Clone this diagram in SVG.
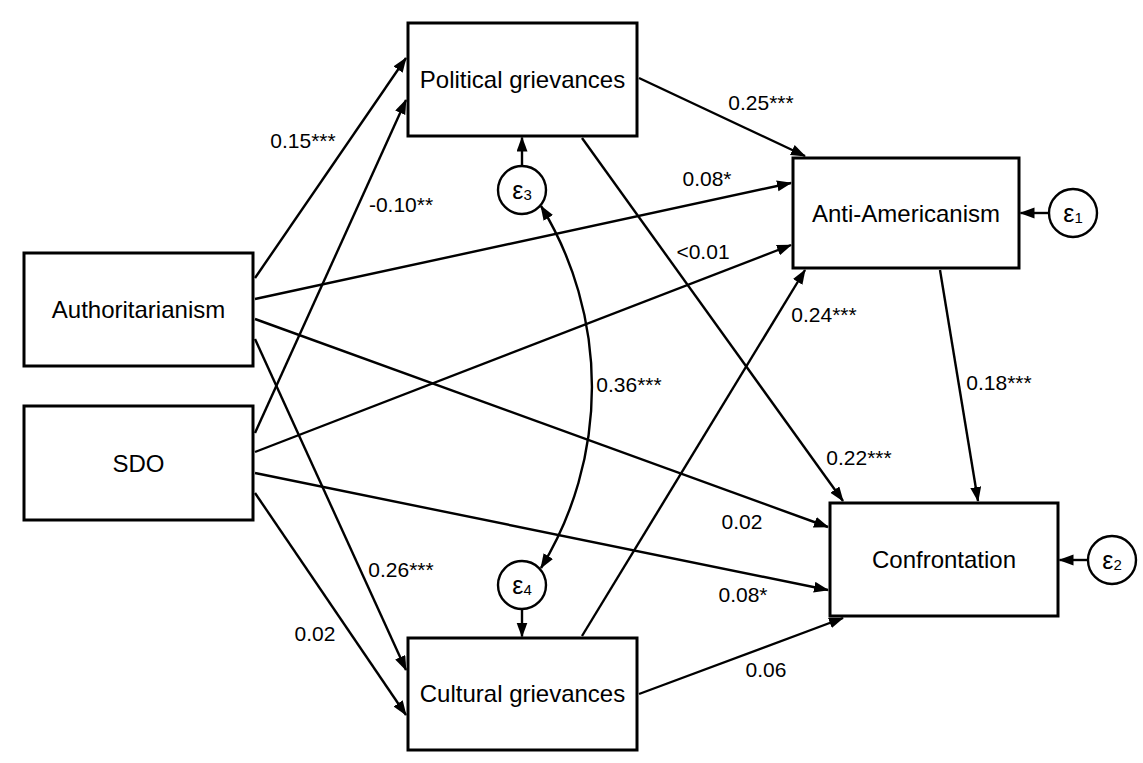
<svg xmlns="http://www.w3.org/2000/svg" width="1143" height="763" viewBox="0 0 1143 763">
<style>
.box{fill:#fff;stroke:#000;stroke-width:3}
.err{fill:#fff;stroke:#000;stroke-width:2.4}
.lbl{font-family:"Liberation Sans",Arial,sans-serif;font-size:24px;fill:#000;text-anchor:middle}
.coef{font-family:"Liberation Sans",Arial,sans-serif;font-size:21px;fill:#000;text-anchor:middle}
.eps{font-family:"Liberation Sans",Arial,sans-serif;font-size:25px;fill:#000;text-anchor:middle}
.c{fill:none;stroke:#000;stroke-width:2.4;marker-end:url(#ah)}
</style>
<defs>
<marker id="ah" markerUnits="userSpaceOnUse" markerWidth="16" markerHeight="12" refX="14" refY="5.5" orient="auto-start-reverse">
<path d="M0,0 L15,5.5 L0,11 Z" fill="#000"/>
</marker>
</defs>
<rect width="1143" height="763" fill="#fff"/>
<g id="connectors">
<line class="c" x1="255" y1="278" x2="406" y2="58"/>
<line class="c" x1="255" y1="433" x2="406" y2="100"/>
<line class="c" x1="255" y1="299" x2="791" y2="183"/>
<line class="c" x1="255" y1="452" x2="791" y2="245"/>
<line class="c" x1="255" y1="319" x2="828" y2="527"/>
<line class="c" x1="255" y1="339" x2="406" y2="670"/>
<line class="c" x1="255" y1="473" x2="828" y2="590"/>
<line class="c" x1="255" y1="493" x2="406" y2="715"/>
<line class="c" x1="639" y1="78" x2="805" y2="156"/>
<line class="c" x1="582" y1="138" x2="843" y2="501"/>
<line class="c" x1="582" y1="636" x2="805" y2="270"/>
<line class="c" x1="639" y1="694" x2="843" y2="618"/>
<line class="c" x1="940" y1="270" x2="978" y2="501"/>
<line class="c" x1="1049" y1="213" x2="1020.5" y2="213"/>
<line class="c" x1="1088" y1="560" x2="1059.5" y2="560"/>
<line class="c" x1="522" y1="166" x2="522" y2="137.5"/>
<line class="c" x1="522" y1="609" x2="522" y2="636.5"/>
<path class="c" d="M541,206 A347,347 0 0 1 541,568" style="marker-start:url(#ah)"/>
</g>
<g id="labels">
<text class="coef" x="303" y="148">0.15***</text>
<text class="coef" x="401" y="212">-0.10**</text>
<text class="coef" x="707" y="186">0.08*</text>
<text class="coef" x="703" y="259">&lt;0.01</text>
<text class="coef" x="761" y="110">0.25***</text>
<text class="coef" x="824" y="322">0.24***</text>
<text class="coef" x="629" y="392">0.36***</text>
<text class="coef" x="999" y="390">0.18***</text>
<text class="coef" x="859" y="465">0.22***</text>
<text class="coef" x="742" y="529">0.02</text>
<text class="coef" x="743" y="602">0.08*</text>
<text class="coef" x="766" y="677">0.06</text>
<text class="coef" x="401" y="577">0.26***</text>
<text class="coef" x="315" y="641">0.02</text>
</g>
<g id="authoritarianism">
<rect class="box" x="24" y="253" width="229" height="113"/>
<text class="lbl" x="138.5" y="318">Authoritarianism</text>
</g>
<g id="sdo">
<rect class="box" x="24" y="406" width="229" height="114"/>
<text class="lbl" x="138.5" y="472">SDO</text>
</g>
<g id="political">
<rect class="box" x="408" y="23" width="229" height="113"/>
<text class="lbl" x="522.5" y="88">Political grievances</text>
</g>
<g id="cultural">
<rect class="box" x="408" y="638" width="229" height="112"/>
<text class="lbl" x="522.5" y="702">Cultural grievances</text>
</g>
<g id="antiamericanism">
<rect class="box" x="793" y="158" width="226" height="110"/>
<text class="lbl" x="906" y="222">Anti-Americanism</text>
</g>
<g id="confrontation">
<rect class="box" x="830" y="503" width="228" height="113"/>
<text class="lbl" x="944" y="568">Confrontation</text>
</g>
<g id="e1">
<circle class="err" cx="1073" cy="213" r="24"/>
<text class="eps" x="1073" y="222">ε<tspan font-size="15" dy="1">1</tspan></text>
</g>
<g id="e2">
<circle class="err" cx="1112" cy="560" r="24"/>
<text class="eps" x="1112" y="569">ε<tspan font-size="15" dy="1">2</tspan></text>
</g>
<g id="e3">
<circle class="err" cx="522" cy="190" r="24"/>
<text class="eps" x="522" y="199">ε<tspan font-size="15" dy="1">3</tspan></text>
</g>
<g id="e4">
<circle class="err" cx="522" cy="585" r="24"/>
<text class="eps" x="522" y="594">ε<tspan font-size="15" dy="1">4</tspan></text>
</g>
</svg>
